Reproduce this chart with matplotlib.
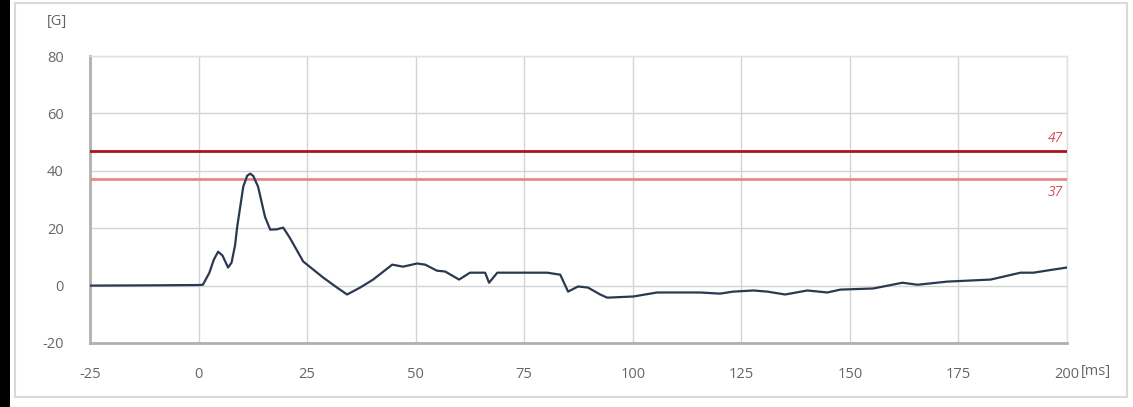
import numpy as np
import matplotlib
matplotlib.use("Agg")
import matplotlib.pyplot as plt
from matplotlib.patches import Rectangle

# acceleration trace: time [ms], value [G]
t_ms = [-25, -10, 0, 1.0, 2.5, 3.5, 4.5, 5.5, 6.8, 7.6, 8.4, 8.9, 10.3, 11.2, 11.9, 12.6,
        13.7, 15.3, 16.5, 18.0, 19.5, 21.0, 24.1, 28.7, 31.9, 34.2, 37.2, 40.2, 44.6,
        47.1, 50.3, 52.2, 54.9, 56.8, 60.0, 62.5, 66.0, 66.9, 68.8, 74.8, 80.3, 83.3,
        85.1, 87.4, 89.7, 92.5, 94.1, 100.1, 105.6, 115.5, 120.1, 123.1, 127.8, 131.0,
        135.1, 140.2, 144.8, 147.8, 155.4, 162.1, 165.6, 172.5, 182.4, 189.3, 192.3,
        196.9, 200.0]
g_val = [0.0, 0.1, 0.2, 0.3, 4.5, 9.0, 11.8, 10.5, 6.3, 8.0, 14.0, 20.5, 34.5, 38.3, 39.0,
         38.2, 34.5, 24.0, 19.5, 19.6, 20.2, 16.7, 8.4, 2.8, -0.7, -3.1, -0.7, 2.1, 7.3,
         6.6, 7.7, 7.3, 5.2, 4.9, 2.1, 4.5, 4.5, 1.0, 4.5, 4.5, 4.5, 3.8,
         -2.1, -0.3, -0.7, -3.1, -4.2, -3.8, -2.4, -2.4, -2.8, -2.1, -1.7, -2.1,
         -3.1, -1.7, -2.4, -1.4, -1.0, 1.0, 0.3, 1.4, 2.1, 4.5, 4.5,
         5.6, 6.3]

limits = [47, 37]
limit_colors = ["#a8141c", "#e58a8a"]
limit_text_colors = ["#d0505a", "#d0505a"]

x_ticks = [-25, 0, 25, 50, 75, 100, 125, 150, 175, 200]
y_ticks = [-20, 0, 20, 40, 60, 80]

plt.rcParams['font.family'] = ['Open Sans', 'DejaVu Sans']
plt.rcParams['axes.unicode_minus'] = False

fig = plt.figure(figsize=(11.33, 4.07), dpi=100)
# outer border and dark left strip
fig.patches.append(Rectangle((0, 0), 10 / 1133, 1, transform=fig.transFigure,
                             facecolor="black", edgecolor="none"))
fig.patches.append(Rectangle((15 / 1133, 10 / 407), 1112 / 1133, 394 / 407,
                             transform=fig.transFigure, facecolor="none",
                             edgecolor="#d9d9d9", lw=1.5))

ax = fig.add_axes([90 / 1133, 1 - 343 / 407, 977 / 1133, 287 / 407])

for v, c in zip(limits, limit_colors):
    ax.axhline(v, color=c, lw=2, zorder=3)
ax.text(199, limits[0] + 1.5, str(limits[0]), color=limit_text_colors[0], fontsize=10,
        style="italic", ha="right", va="bottom")
ax.text(199, limits[1] - 1.8, str(limits[1]), color=limit_text_colors[1], fontsize=10,
        style="italic", ha="right", va="top")

ax.plot(t_ms, g_val, color="#2b3950", lw=1.6, zorder=4)

ax.set_xlim(-25, 200)
ax.set_ylim(-20, 80)
ax.set_xticks(x_ticks)
ax.set_yticks(y_ticks)
ax.grid(True, color="#d4d4d4", lw=1)
ax.set_axisbelow(True)
ax.tick_params(length=0, labelsize=10.5, labelcolor="#666666")
ax.tick_params(axis="y", pad=19)
ax.tick_params(axis="x", pad=17)
for s in ["top", "right"]:
    ax.spines[s].set_color("#e0e0e0")
    ax.spines[s].set_linewidth(1)
for s in ["left", "bottom"]:
    ax.spines[s].set_color("#b0b0b0")
    ax.spines[s].set_linewidth(2)

fig.text(57 / 1133, 1 - 22 / 407, "[G]", fontsize=10.5, color="#666666", ha="center", va="center")
fig.text(1081 / 1133, 1 - 372 / 407, "[ms]", fontsize=10.5, color="#666666", ha="left", va="center")

fig.savefig("out.png", dpi=100)
